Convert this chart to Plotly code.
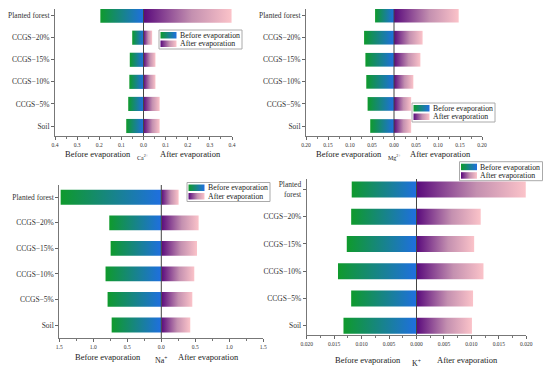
import plotly.graph_objects as go

categories = ["Soil", "CCGS−5%", "CCGS−10%", "CCGS−15%", "CCGS−20%", "Planted forest"]
k_categories = ["Soil", "CCGS−5%", "CCGS−10%", "CCGS−15%", "CCGS−20%", "Planted<br>forest"]
series_names = ["Before evaporation", "After evaporation"]

ca_before = [0.078, 0.069, 0.064, 0.062, 0.051, 0.195]
ca_after = [0.073, 0.073, 0.054, 0.054, 0.039, 0.398]
mg_before = [0.054, 0.060, 0.063, 0.065, 0.068, 0.043]
mg_after = [0.039, 0.039, 0.044, 0.060, 0.065, 0.147]
na_before = [0.73, 0.79, 0.82, 0.745, 0.765, 1.48]
na_after = [0.426, 0.456, 0.485, 0.525, 0.549, 0.255]
k_before = [0.0133, 0.0119, 0.0143, 0.0127, 0.0119, 0.0118]
k_after = [0.0101, 0.0103, 0.0122, 0.0105, 0.0117, 0.0199]

ca_ticks = ["0.4", "0.3", "0.2", "0.1", "0.0", "0.1", "0.2", "0.3", "0.4"]
mg_ticks = ["0.20", "0.15", "0.10", "0.05", "0.00", "0.05", "0.10", "0.15", "0.20"]
na_ticks = ["1.5", "1.0", "0.5", "0.0", "0.5", "1.0", "1.5"]
k_ticks = ["0.020", "0.015", "0.010", "0.005", "0.000", "0.005", "0.010", "0.015", "0.020"]

W, H = 550, 373
FONT = "Liberation Serif"
BEFORE_CS = [[0, "#0f9a2c"], [1, "#1f6fe0"]]
AFTER_CS = [[0, "#5a0a7c"], [0.55, "#c490b0"], [1, "#fbc3c9"]]


def px(x):
    return x / W


def py(y):
    return 1 - y / H


panels = [
    dict(name="Ca", before=ca_before, after=ca_after, cats=categories, ticks=ca_ticks,
         xmax=0.4, dtick=0.1, minor=0.05, box=(55, 9, 232, 136), yr=[-0.453, 5.30], hh=0.32,
         ion="Ca<sup>2+</sup>", lbl=(98, 143, 190, 154), leg=(159, 30)),
    dict(name="Mg", before=mg_before, after=mg_after, cats=categories, ticks=mg_ticks,
         xmax=0.2, dtick=0.05, minor=0.025, box=(306, 9, 482, 136), yr=[-0.453, 5.30], hh=0.31,
         ion="Mg<sup>2+</sup>", lbl=(349, 394, 441, 154), leg=(412, 103)),
    dict(name="Na", before=na_before, after=na_after, cats=categories, ticks=na_ticks,
         xmax=1.5, dtick=0.5, minor=0.25, box=(59.3, 185, 263.3, 338.3), yr=[-0.52, 5.48], hh=0.29,
         ion="Na<sup>+</sup>", lbl=(108, 161, 208, 357), leg=(187, 182.5)),
    dict(name="K", before=k_before, after=k_after, cats=k_categories, ticks=k_ticks,
         xmax=0.02, dtick=0.005, minor=0.0025, box=(306.7, 179, 526.3, 335), yr=[-0.34, 5.385], hh=0.29,
         ion="K<sup>+</sup>", lbl=(368, 416, 467, 360), leg=(459.5, 161.7)),
]

fig = go.Figure()
layout = dict(
    width=W, height=H, margin=dict(l=0, r=0, t=0, b=0, autoexpand=False),
    paper_bgcolor="white", plot_bgcolor="rgba(0,0,0,0)",
    font=dict(family=FONT, color="#222"),
    hovermode=False, showlegend=False,
)
annotations = []
shapes = []

for k, p in enumerate(panels):
    n = "" if k == 0 else str(k + 1)
    xa, ya = "x" + n, "y" + n
    for series, vals, cs in ((series_names[0], p["before"], BEFORE_CS),
                             (series_names[1], p["after"], AFTER_CS)):
        sign = -1 if series == series_names[0] else 1
        for i, v in enumerate(vals):
            x0, x1 = (sign * v, 0) if sign < 0 else (0, v)
            fig.add_trace(go.Scatter(
                x=[x0, x1, x1, x0, x0],
                y=[i - p["hh"], i - p["hh"], i + p["hh"], i + p["hh"], i - p["hh"]],
                mode="none", fill="toself",
                fillgradient=dict(type="horizontal", colorscale=cs),
                xaxis=xa, yaxis=ya, name=series, showlegend=False,
            ))
    x0p, y0p, x1p, y1p = p["box"]
    xm = p["xmax"]
    nt = int(round(2 * xm / p["dtick"])) + 1
    tickvals = [-xm + j * p["dtick"] for j in range(nt)]
    layout["xaxis" + n] = dict(
        domain=[px(x0p), px(x1p)], anchor=ya, range=[-xm, xm], automargin=False,
        tickvals=tickvals, ticktext=p["ticks"], tickfont=dict(size=5.5, family=FONT, color="#333"),
        ticks="outside", ticklen=3, tickcolor="#666", showline=True, linecolor="#777",
        linewidth=1, showgrid=False, zeroline=False, fixedrange=True,
        minor=dict(dtick=p["minor"], tick0=0, ticks="outside", ticklen=2, tickcolor="#777"),
    )
    layout["yaxis" + n] = dict(
        domain=[py(y1p), py(y0p)], anchor=xa, range=p["yr"], automargin=False,
        tickvals=list(range(len(p["cats"]))), ticktext=p["cats"],
        tickfont=dict(size=7.5, family=FONT, color="#333"),
        ticks="outside", ticklen=3, tickcolor="#666", showline=True, linecolor="#777",
        linewidth=1, showgrid=False, zeroline=False, fixedrange=True,
    )
    shapes.append(dict(type="line", xref=xa, yref=ya + " domain", x0=0, x1=0, y0=0, y1=1,
                       line=dict(color="#444", width=1), layer="above"))
    bx, ix, axx, ly = p["lbl"]
    annotations += [
        dict(x=px(bx), y=py(ly), xref="paper", yref="paper", text="Before evaporation",
             xanchor="center", yanchor="middle",
             showarrow=False, font=dict(size=8.5, family=FONT, color="#222")),
        dict(x=px(ix), y=py(ly + 3), xref="paper", yref="paper", text=p["ion"],
             xanchor="center", yanchor="middle",
             showarrow=False, font=dict(size=6 if k < 2 else 8, family=FONT, color="#222")),
        dict(x=px(axx), y=py(ly), xref="paper", yref="paper", text="After evaporation",
             xanchor="center", yanchor="middle",
             showarrow=False, font=dict(size=8.5, family=FONT, color="#222")),
    ]
    # custom compact legend: box, gradient swatches (on a pixel overlay axis) and texts
    lx, lt = p["leg"]
    shapes.append(dict(type="rect", xref="paper", yref="paper",
                       x0=px(lx), x1=px(lx + 83), y0=py(lt), y1=py(lt + 19),
                       line=dict(color="#aaa", width=1), fillcolor="white", layer="below"))
    for j, (nm, cs) in enumerate(zip(series_names, (BEFORE_CS, AFTER_CS))):
        top = lt + 2 + j * 8.5
        sx0, sx1, sy0, sy1 = lx + 1.5, lx + 17.5, top, top + 6.5
        fig.add_trace(go.Scatter(
            x=[sx0, sx1, sx1, sx0, sx0], y=[sy0, sy0, sy1, sy1, sy0],
            mode="none", fill="toself",
            fillgradient=dict(type="horizontal", colorscale=cs),
            xaxis="x5", yaxis="y5", name=nm, showlegend=False,
        ))
        annotations.append(dict(x=px(lx + 18.5), y=py(top + 3.3), xref="paper", yref="paper",
                                text=nm, xanchor="left", yanchor="middle", showarrow=False,
                                font=dict(size=7.8, family=FONT, color="#222")))

layout["xaxis5"] = dict(domain=[0, 1], anchor="y5", range=[0, W], visible=False,
                        fixedrange=True, automargin=False)
layout["yaxis5"] = dict(domain=[0, 1], anchor="x5", range=[H, 0], visible=False,
                        fixedrange=True, automargin=False)
layout["annotations"] = annotations
layout["shapes"] = shapes
fig.update_layout(**layout)
fig.write_html("out.html", config={"displayModeBar": False},
               post_script="document.body.style.margin='0';")
